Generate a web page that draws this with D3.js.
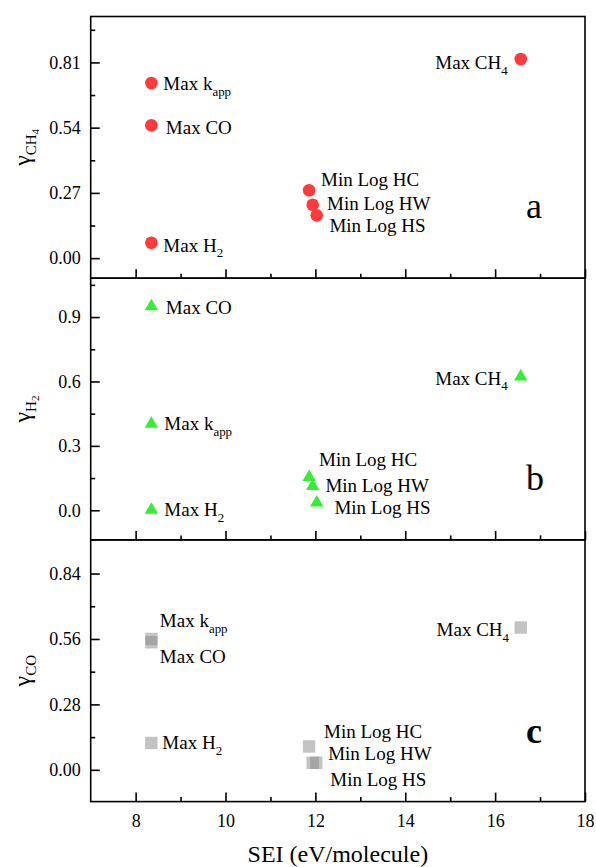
<!DOCTYPE html>
<html><head><meta charset="utf-8">
<script src="https://cdn.jsdelivr.net/npm/d3@7"></script>
<style>
html,body{margin:0;padding:0;background:#fff;}
svg text, svg tspan{font-family:"Liberation Serif","Times New Roman",Times,"Nimbus Roman","DejaVu Serif",serif !important;fill:#000;}
</style></head>
<body>
<svg id="chart" width="596" height="867"></svg>
<script>
// ---------- data ----------
const labels = ["Max CH_4", "Max k_app", "Max CO", "Max H_2", "Min Log HC", "Min Log HW", "Min Log HS"];
const sei    = [16.57, 8.35, 8.35, 8.35, 11.86, 11.94, 12.03];
const gammaCH4 = [0.824, 0.725, 0.550, 0.064, 0.281, 0.221, 0.177];
const gammaH2  = [0.627, 0.407, 0.954, 0.006, 0.159, 0.117, 0.040];
const gammaCO  = [0.609, 0.560, 0.546, 0.115, 0.100, 0.030, 0.030];
const seiCO    = [16.57, 8.35, 8.35, 8.35, 11.86, 11.94, 12.02];
const xTicks = [8, 10, 12, 14, 16, 18];
const xMinor = [9, 11, 13, 15, 17];
const yTicksCH4 = [0, 0.27, 0.54, 0.81];
const yTicksH2  = [0, 0.3, 0.6, 0.9];
const yTicksCO  = [0, 0.28, 0.56, 0.84];
const yMinorCH4 = [0.135, 0.405, 0.675, 0.945];
const yMinorH2  = [0.15, 0.45, 0.75, 1.05];
const yMinorCO  = [0.14, 0.42, 0.70];
const tickFmt = [".2f", ".1f", ".2f"];

// ---------- layout ----------
const FONT = "'Liberation Serif','Times New Roman',Times,'DejaVu Serif',serif";
const svg = d3.select("#chart").attr("font-family", FONT);
const L = 90.7, R = 585, top0 = 16.5, PH = 261.7;
const LFS = 19;
const x = d3.scaleLinear().domain([7, 18]).range([L, R]);

// label offsets [dx, dy, anchor] per panel
const offs = [
  [[-13,10,"end"],[12,7,"start"],[14.5,9,"start"],[12,9,"start"],[12,-4,"start"],[14.4,5,"start"],[12.7,16.7,"start"]],
  [[-13,9,"end"],[13,7,"start"],[14.5,8.3,"start"],[13,7,"start"],[10,-10,"start"],[12.7,7,"start"],[17.7,12.7,"start"]],
  [[-11.7,8.4,"end"],[8.5,-11.5,"start"],[8.5,21,"start"],[11,6,"start"],[15,-8.4,"start"],[15.5,-2.6,"start"],[14,22.7,"start"]]
];

const panels = [
  {vals: gammaCH4, xs: sei, dom: [-0.083, 1.0], ticks: yTicksCH4, minor: yMinorCH4, sub: "CH", subsub: "4", letter: "a", bold: false, shape: "circle", color: "#ff3a3a", opacity: 1},
  {vals: gammaH2, xs: sei, dom: [-0.138, 1.081], ticks: yTicksH2, minor: yMinorH2, sub: "H", subsub: "2", letter: "b", bold: false, shape: "triangle", color: "#33ee33", opacity: 1},
  {vals: gammaCO, xs: seiCO, dom: [-0.136, 0.984], ticks: yTicksCO, minor: yMinorCO, sub: "CO", subsub: "", letter: "c", bold: true, shape: "square", color: "#888888", opacity: 0.5}
];

function addLabel(g, str, fs) {
  const parts = str.split("_");
  g.append("tspan").text(parts[0]);
  if (parts[1]) {
    g.append("tspan").attr("font-size", fs * 0.68).attr("dy", fs * 0.3).text(parts[1]);
  }
}

panels.forEach((p, i) => {
  const t = top0 + i * PH, b = t + PH;
  const y = d3.scaleLinear().domain(p.dom).range([b, t]);
  const g = svg.append("g");

  const ya = g.append("g").attr("transform", `translate(${L},0)`)
    .call(d3.axisLeft(y).tickValues(p.ticks).tickSize(-9).tickSizeOuter(0).tickPadding(10).tickFormat(d3.format(tickFmt[i])));
  ya.attr("font-family", FONT).attr("font-size", 18);
  ya.select(".domain").remove();
  ya.selectAll("line").attr("stroke", "#000").attr("stroke-width", 1.6);
  const ym = g.append("g").attr("transform", `translate(${L},0)`)
    .call(d3.axisLeft(y).tickValues(p.minor.filter(v => y(v) > t + 1)).tickSize(-4.5).tickSizeOuter(0).tickFormat(""));
  ym.select(".domain").remove();
  ym.selectAll("line").attr("stroke", "#000").attr("stroke-width", 1.6);

  const xa = g.append("g").attr("transform", `translate(0,${b})`)
    .call(d3.axisBottom(x).tickValues(xTicks).tickSize(-9).tickSizeOuter(0).tickPadding(13).tickFormat(i === 2 ? d3.format("d") : ""));
  xa.attr("font-family", FONT).attr("font-size", 18);
  xa.select(".domain").remove();
  xa.selectAll("line").attr("stroke", "#000").attr("stroke-width", 1.6);
  const xm = g.append("g").attr("transform", `translate(0,${b})`)
    .call(d3.axisBottom(x).tickValues(xMinor).tickSize(-4.5).tickSizeOuter(0).tickFormat(""));
  xm.select(".domain").remove();
  xm.selectAll("line").attr("stroke", "#000").attr("stroke-width", 1.6);

  g.append("rect").attr("x", L).attr("y", t).attr("width", R - L).attr("height", PH)
    .attr("fill", "none").attr("stroke", "#000").attr("stroke-width", 1.6);

  const pts = p.vals.map((v, k) => ({x: x(p.xs[k]), y: y(v), k}));
  const mg = g.append("g");
  if (p.shape === "circle") {
    mg.selectAll("circle").data(pts).join("circle")
      .attr("cx", d => d.x).attr("cy", d => d.y).attr("r", 6.3).attr("fill", p.color);
  } else if (p.shape === "triangle") {
    const sym = d3.symbol().type(d3.symbolTriangle).size(78);
    mg.selectAll("path").data(pts).join("path")
      .attr("transform", d => `translate(${d.x},${d.y + 1})`).attr("d", sym).attr("fill", p.color);
  } else {
    mg.selectAll("rect").data(pts).join("rect")
      .attr("x", d => d.x - 6.2).attr("y", d => d.y - 6.2).attr("width", 12.4).attr("height", 12.4)
      .attr("fill", p.color).attr("fill-opacity", p.opacity);
  }

  pts.forEach(d => {
    const o = offs[i][d.k];
    const tx = g.append("text").attr("x", d.x + o[0]).attr("y", d.y + o[1])
      .attr("text-anchor", o[2]).attr("font-size", LFS);
    addLabel(tx, labels[d.k], LFS);
  });

  g.append("text").attr("x", 526).attr("y", [218, 490, 743][i])
    .attr("font-size", 36).attr("font-weight", p.bold ? "bold" : "normal").text(p.letter);

  const cy = (t + b) / 2;
  const yt = g.append("text").attr("transform", `translate(30,${cy}) rotate(-90)`)
    .attr("text-anchor", "middle").attr("font-size", 24);
  yt.append("tspan").text("γ");
  yt.append("tspan").attr("font-size", 15).attr("dy", 6).text(p.sub);
  if (p.subsub) yt.append("tspan").attr("font-size", 11).attr("dy", 3).text(p.subsub);
});

svg.append("text").attr("x", (L + R) / 2).attr("y", 862).attr("text-anchor", "middle")
  .attr("font-size", 24).text("SEI (eV/molecule)");
</script>
</body></html>
